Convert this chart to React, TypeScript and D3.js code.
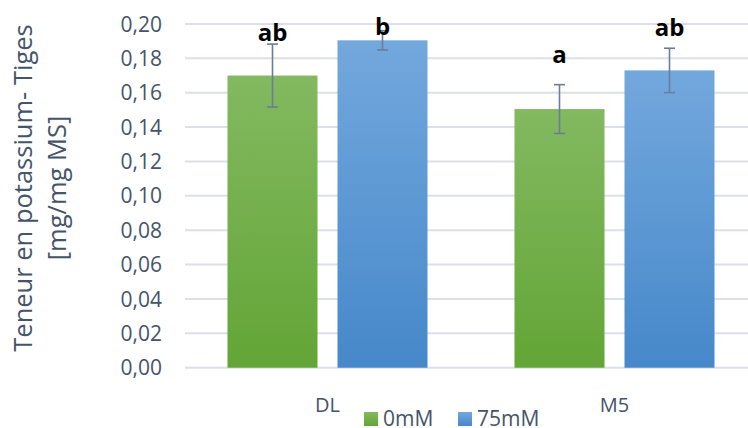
import React from "react";
import * as d3 from "d3";

// Potassium content in stems, by line and salt treatment
const categories = ["DL", "M5"];
const seriesNames = ["0mM", "75mM"];
const values0mM = [0.170, 0.1505];
const values75mM = [0.1905, 0.173];
const errors0mM = [0.0183, 0.0142];
const errors75mM = [0.0056, 0.0129];
const letters0mM = ["ab", "a"];
const letters75mM = ["b", "ab"];
// vertical anchor (in data units) of each significance letter baseline
const letterLevels0mM = [0.190, 0.1773];
const letterLevels75mM = [0.1936, 0.193];
const yTicks = [0, 0.02, 0.04, 0.06, 0.08, 0.1, 0.12, 0.14, 0.16, 0.18, 0.2];
const yTitleLines = ["Teneur en potassium- Tiges", "[mg/mg MS]"];

const W = 748;
const H = 428;
const FONT = "'Open Sans', 'DejaVu Sans', sans-serif";
const TEXT = "#44546A";
const GRID = "#DCE0E6";
const ERR = "#6A7D9C";

const frLocale = d3.formatLocale({
  decimal: ",",
  thousands: " ",
  grouping: [3],
  currency: ["", " €"],
});
const fmt = frLocale.format(".2f");

export default function App() {
  const y = d3.scaleLinear().domain([0, 0.2]).range([367.7, 24]);
  const x0 = d3.scaleBand<string>().domain(categories).range([184, 758]).padding(0);
  const x1 = d3
    .scaleBand<string>()
    .domain(seriesNames)
    .range([43.5, 243.5])
    .paddingInner(0.1818)
    .paddingOuter(0);

  const series = [
    { name: seriesNames[0], vals: values0mM, errs: errors0mM, letters: letters0mM, lv: letterLevels0mM, grad: "gGreen", swatch: "#70AD47" },
    { name: seriesNames[1], vals: values75mM, errs: errors75mM, letters: letters75mM, lv: letterLevels75mM, grad: "gBlue", swatch: "#5B9BD5" },
  ];

  const bw = x1.bandwidth();

  return (
    <svg
      width={W}
      height={H}
      style={{ position: "absolute", left: 0, top: 0, background: "#fff" }}
      fontFamily={FONT}
    >
      <defs>
        <linearGradient id="gGreen" x1="0" y1="0" x2="0" y2="1">
          <stop offset="0" stopColor="#83B960" />
          <stop offset="1" stopColor="#63A536" />
        </linearGradient>
        <linearGradient id="gBlue" x1="0" y1="0" x2="0" y2="1">
          <stop offset="0" stopColor="#73A8DD" />
          <stop offset="1" stopColor="#4688CA" />
        </linearGradient>
      </defs>
      <rect width={W} height={H} fill="#fff" />

      {/* gridlines */}
      {yTicks.map((t) => (
        <line key={"g" + t} x1={185} x2={W} y1={y(t)} y2={y(t)} stroke={GRID} strokeWidth={2} />
      ))}

      {/* y tick labels */}
      {yTicks.map((t) => (
        <text
          key={"t" + t}
          x={162}
          y={y(t)}
          dy="0.36em"
          textAnchor="end"
          fontSize={21}
          fill={TEXT}
        >
          {fmt(t)}
        </text>
      ))}

      {/* y axis title */}
      {yTitleLines.map((line, i) => (
        <text
          key={"yt" + i}
          transform={`translate(${32 + i * 34},188) rotate(-90)`}
          textAnchor="middle"
          fontSize={25.5}
          fill={TEXT}
        >
          {line}
        </text>
      ))}

      {/* bars */}
      {series.map((s) =>
        categories.map((c, i) => {
          const bx = (x0(c) as number) + (x1(s.name) as number);
          return (
            <rect
              key={s.name + c}
              x={bx}
              y={y(s.vals[i])}
              width={bw}
              height={y(0) - y(s.vals[i])}
              fill={`url(#${s.grad})`}
            />
          );
        })
      )}

      {/* error bars */}
      {series.map((s) =>
        categories.map((c, i) => {
          const cx = (x0(c) as number) + (x1(s.name) as number) + bw / 2;
          const top = y(s.vals[i] + s.errs[i]);
          const bot = y(s.vals[i] - s.errs[i]);
          return (
            <g key={"e" + s.name + c} stroke={ERR} strokeWidth={1.6}>
              <line x1={cx} x2={cx} y1={top} y2={bot} />
              <line x1={cx - 5.5} x2={cx + 5.5} y1={top} y2={top} />
              <line x1={cx - 5.5} x2={cx + 5.5} y1={bot} y2={bot} />
            </g>
          );
        })
      )}

      {/* significance letters */}
      {series.map((s) =>
        categories.map((c, i) => {
          const cx = (x0(c) as number) + (x1(s.name) as number) + bw / 2;
          return (
            <text
              key={"l" + s.name + c}
              x={cx}
              y={y(s.lv[i])}
              textAnchor="middle"
              fontSize={24}
              fontWeight="bold"
              fill="#000"
            >
              {s.letters[i]}
            </text>
          );
        })
      )}

      {/* category labels */}
      {categories.map((c) => (
        <text
          key={"c" + c}
          x={(x0(c) as number) + x0.bandwidth() / 2}
          y={412}
          textAnchor="middle"
          fontSize={20}
          fill={TEXT}
        >
          {c}
        </text>
      ))}

      {/* legend */}
      {series.map((s, i) => {
        const lx = 364 + i * 94;
        return (
          <g key={"lg" + s.name}>
            <rect x={lx} y={412} width={14} height={14} fill={`url(#${s.grad})`} />
            <text x={lx + 19} y={426} fontSize={21} fill={TEXT}>
              {s.name}
            </text>
          </g>
        );
      })}
    </svg>
  );
}
